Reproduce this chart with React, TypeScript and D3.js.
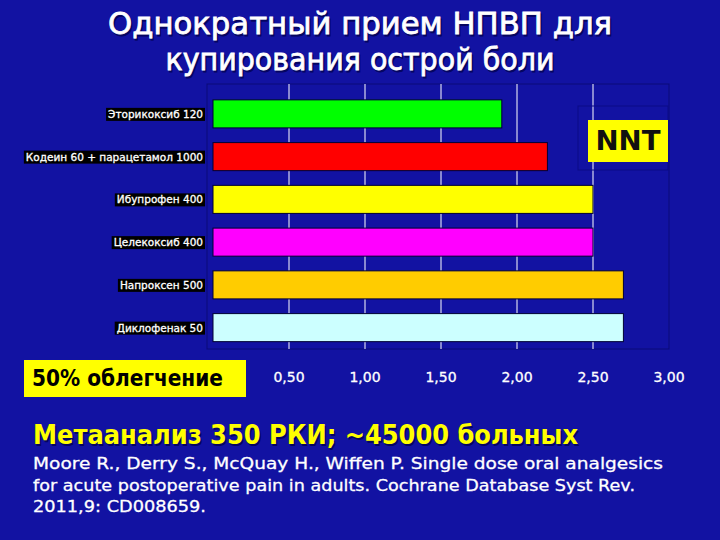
import React, { useEffect, useRef } from 'react';
import * as d3 from 'd3';

// NNT for 50% pain relief, single dose
const drugs = [
  'Эторикоксиб 120',
  'Кодеин 60 + парацетамол 1000',
  'Ибупрофен 400',
  'Целекоксиб 400',
  'Напроксен 500',
  'Диклофенак 50',
];
const nnt = [1.9, 2.2, 2.5, 2.5, 2.7, 2.7];
const barColors = ['#00ff00', '#ff0000', '#ffff00', '#ff00ff', '#ffcc00', '#ccffff'];
const tickValues = [0.5, 1, 1.5, 2, 2.5, 3];

const titleLines = ['Однократный прием НПВП для', 'купирования острой боли'];
const refLines = [
  'Moore R., Derry S., McQuay H., Wiffen P. Single dose oral analgesics',
  'for acute postoperative pain in adults. Cochrane Database Syst Rev.',
  '2011,9: CD008659.',
];

const BG = '#1212a2';
const FONT = '"DejaVu Sans", Verdana, sans-serif';

const App = () => {
  const svgRef = useRef<SVGSVGElement>(null);

  useEffect(() => {
    const svg = d3.select(svgRef.current);
    svg.selectAll('*').remove();

    svg.append('rect').attr('width', 720).attr('height', 540).attr('fill', BG);

    // title, with a little shadow like the slide
    const title = svg.append('g').attr('font-family', FONT).attr('font-size', 30).attr('text-anchor', 'middle');
    const titleW = [504, 389];
    titleLines.forEach((t, i) => {
      [['#050560', 1.5], ['#ffffff', 0]].forEach(([fill, off]) => {
        title.append('text')
          .attr('x', 360 + (off as number))
          .attr('y', 34 + i * 36 + (off as number))
          .attr('fill', fill as string)
          .attr('stroke', fill as string)
          .attr('stroke-width', 0.8)
          .attr('textLength', titleW[i])
          .attr('lengthAdjust', 'spacingAndGlyphs')
          .text(t);
      });
    });

    const x = d3.scaleLinear().domain([0, 3]).range([213, 669]);
    const y = d3.scaleBand().domain(drugs).range([92.5, 349]).paddingInner(0.344).paddingOuter(0.172);

    // plot frame
    svg.append('rect')
      .attr('x', 207).attr('y', 84)
      .attr('width', 669 - 207).attr('height', 349 - 84)
      .attr('fill', 'none').attr('stroke', '#0a0a78').attr('stroke-width', 1);

    // gridlines
    svg.append('g').selectAll('line')
      .data(tickValues.filter(d => d < 3))
      .join('line')
      .attr('x1', d => x(d)).attr('x2', d => x(d))
      .attr('y1', 84).attr('y2', 349)
      .attr('stroke', '#ffffff').attr('stroke-width', 1);

    // bars
    svg.append('g').selectAll('rect')
      .data(drugs)
      .join('rect')
      .attr('x', x(0))
      .attr('y', d => y(d)!)
      .attr('width', (d, i) => x(nnt[i]) - x(0))
      .attr('height', y.bandwidth())
      .attr('fill', (d, i) => barColors[i])
      .attr('stroke', '#000033').attr('stroke-width', 1);

    // category labels on black boxes
    const labels = svg.append('g').attr('font-family', FONT).attr('font-size', 10.5);
    drugs.forEach(d => {
      const g = labels.append('g');
      const txt = g.append('text')
        .attr('x', 203)
        .attr('y', y(d)! + y.bandwidth() / 2)
        .attr('text-anchor', 'end')
        .attr('dominant-baseline', 'central')
        .attr('fill', '#ffffff')
        .attr('stroke', '#ffffff')
        .attr('stroke-width', 0.3)
        .text(d);
      const bb = (txt.node() as SVGTextElement).getBBox();
      g.insert('rect', 'text')
        .attr('x', bb.x - 2).attr('y', bb.y)
        .attr('width', bb.width + 4).attr('height', bb.height + 1)
        .attr('fill', '#000000');
    });

    // x tick labels
    const fmt = (v: number) => d3.format('.2f')(v).replace('.', ',');
    svg.append('g').selectAll('text')
      .data(tickValues)
      .join('text')
      .attr('x', d => x(d))
      .attr('y', 377)
      .attr('text-anchor', 'middle')
      .attr('dominant-baseline', 'central')
      .attr('font-family', FONT)
      .attr('font-size', 14)
      .attr('fill', '#ffffff')
      .attr('stroke', '#ffffff')
      .attr('stroke-width', 0.3)
      .text(fmt);

    // NNT legend
    svg.append('rect').attr('x', 578).attr('y', 106).attr('width', 90).attr('height', 64)
      .attr('fill', 'none').attr('stroke', '#0b0b86');
    svg.append('rect').attr('x', 588).attr('y', 120).attr('width', 80).attr('height', 42).attr('fill', '#ffff00');
    svg.append('text').attr('x', 628).attr('y', 150).attr('text-anchor', 'middle')
      .attr('font-family', FONT).attr('font-size', 27).attr('font-weight', 'bold').attr('fill', '#111111')
      .attr('textLength', 65).attr('lengthAdjust', 'spacingAndGlyphs')
      .text('NNT');

    // 50% relief box
    svg.append('rect').attr('x', 24).attr('y', 360).attr('width', 222).attr('height', 37).attr('fill', '#ffff00');
    svg.append('text').attr('x', 32).attr('y', 386)
      .attr('font-family', FONT).attr('font-size', 23).attr('font-weight', 'bold').attr('fill', '#000000')
      .attr('textLength', 191).attr('lengthAdjust', 'spacingAndGlyphs')
      .text('50% облегчение');

    // meta-analysis line
    const meta = 'Метаанализ 350 РКИ; ~45000 больных';
    [['#050560', 1.5], ['#ffff00', 0]].forEach(([fill, off]) => {
      svg.append('text')
        .attr('x', 33 + (off as number)).attr('y', 444 + (off as number))
        .attr('font-family', FONT).attr('font-size', 26).attr('font-weight', 'bold').attr('fill', fill as string)
        .attr('textLength', 545).attr('lengthAdjust', 'spacingAndGlyphs')
        .text(meta);
    });

    // reference
    const refW = [630, 602, 173];
    refLines.forEach((t, i) => {
      svg.append('text')
        .attr('x', 33).attr('y', 469 + i * 21.5)
        .attr('font-family', FONT).attr('font-size', 16.5).attr('fill', '#ffffff')
        .attr('stroke', '#ffffff').attr('stroke-width', 0.3)
        .attr('textLength', refW[i]).attr('lengthAdjust', 'spacingAndGlyphs')
        .text(t);
    });
  }, []);

  return (
    <svg
      ref={svgRef}
      width={720}
      height={540}
      style={{ position: 'absolute', left: 0, top: 0, display: 'block' }}
    />
  );
};

export default App;
